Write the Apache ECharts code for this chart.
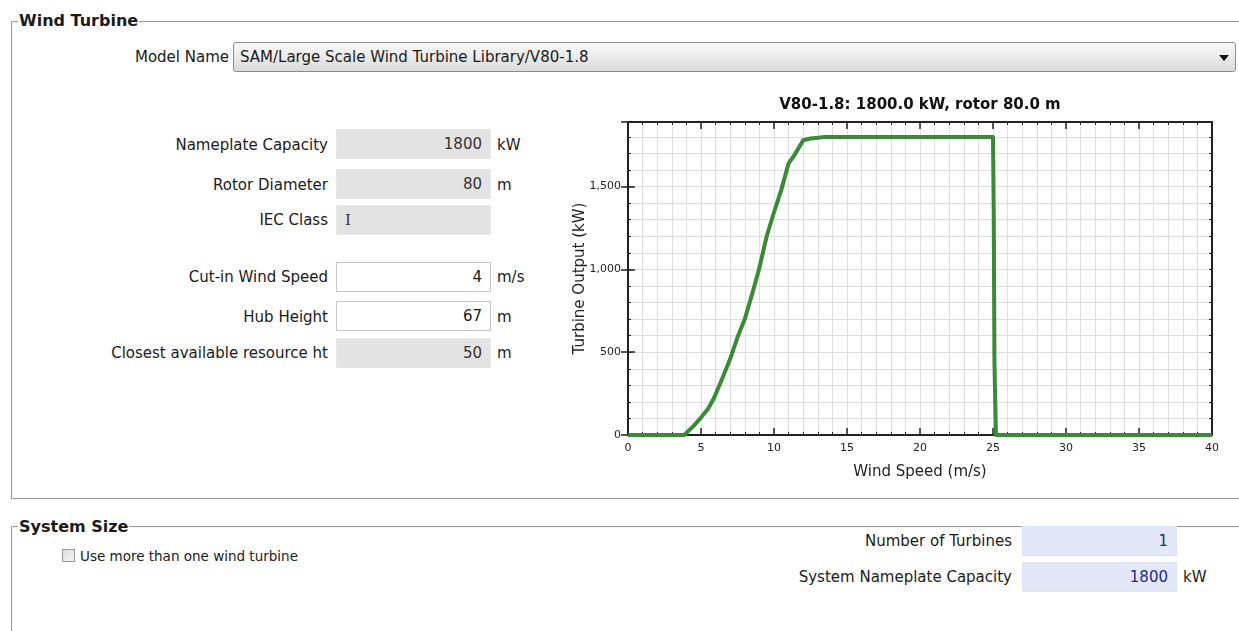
<!DOCTYPE html>
<html>
<head>
<meta charset="utf-8">
<script src="https://cdn.jsdelivr.net/npm/echarts@6/dist/echarts.min.js"></script>
<style>
  html, body { margin: 0; padding: 0; background: #ffffff; }
  body { width: 1239px; height: 631px; position: relative; overflow: hidden;
         font-family: "DejaVu Sans", sans-serif; font-size: 15px; color: #1a1a1a; }
  .abs { position: absolute; }
  .hline { position: absolute; height: 0; border-top: 1px solid #9a9a9a; border-bottom: 1px solid #f4f4f4; }
  .vline { position: absolute; width: 0; border-left: 1px solid #9a9a9a; border-right: 1px solid #f4f4f4; }
  .grp { position: absolute; font-weight: bold; font-size: 16px; background: #fff; padding: 0 1px; line-height: 18px; }
  .lbl { position: absolute; text-align: right; white-space: nowrap; line-height: 16px; }
  .box { position: absolute; box-sizing: border-box; height: 30px; border: 1px solid #d2d2d2;
         text-align: right; padding-right: 8px; line-height: 28px; white-space: nowrap; }
  .gray { background: #e3e3e3; border-color: #e8e8e8; color: #333; }
  .white { background: #ffffff; border-color: #c6c6c6; }
  .blue { background: #e2e8f8; border-color: #dde3f2; color: #1f2a8a; }
  .unit { position: absolute; line-height: 16px; white-space: nowrap; }
  #chart { position: absolute; left: 560px; top: 85px; width: 679px; height: 410px; }
</style>
</head>
<body>
<!-- Wind Turbine group -->
<div class="hline" style="left:11px; top:21px; width:1228px;"></div>
<div class="vline" style="left:11px; top:21px; height:478px;"></div>
<div class="hline" style="left:11px; top:498px; width:1228px;"></div>
<div class="grp" style="left:18px; top:12px;">Wind Turbine</div>

<div class="lbl" style="right:1010px; top:49px;">Model Name</div>
<div class="abs" style="left:233px; top:42px; width:1003px; height:30px; box-sizing:border-box; border:1px solid #8c8c8c; border-radius:3px;
     background:linear-gradient(#f8f8f8, #ececec 45%, #dadada); line-height:28px; padding-left:6px; white-space:nowrap;">SAM/Large Scale Wind Turbine Library/V80-1.8</div>
<div class="abs" style="left:1219px; top:55px; width:0; height:0; border-left:5px solid transparent; border-right:5px solid transparent; border-top:6px solid #111;"></div>

<div class="lbl" style="right:911px; top:137px;">Nameplate Capacity</div>
<div class="box gray" style="left:336px; top:129px; width:155px;">1800</div>
<div class="unit" style="left:497px; top:137px;">kW</div>

<div class="lbl" style="right:911px; top:177px;">Rotor Diameter</div>
<div class="box gray" style="left:336px; top:169px; width:155px;">80</div>
<div class="unit" style="left:497px; top:177px;">m</div>

<div class="lbl" style="right:911px; top:212px;">IEC Class</div>
<div class="box gray" style="left:336px; top:205px; width:155px; text-align:left; padding-left:8px; font-family:'DejaVu Serif', serif;">I</div>

<div class="lbl" style="right:911px; top:269px;">Cut-in Wind Speed</div>
<div class="box white" style="left:336px; top:262px; width:155px;">4</div>
<div class="unit" style="left:497px; top:269px;">m/s</div>

<div class="lbl" style="right:911px; top:309px;">Hub Height</div>
<div class="box white" style="left:336px; top:301px; width:155px;">67</div>
<div class="unit" style="left:497px; top:309px;">m</div>

<div class="lbl" style="right:911px; top:345px;">Closest available resource ht</div>
<div class="box gray" style="left:336px; top:338px; width:155px;">50</div>
<div class="unit" style="left:497px; top:345px;">m</div>

<!-- System Size group -->
<div class="hline" style="left:11px; top:526px; width:1228px;"></div>
<div class="vline" style="left:11px; top:526px; height:110px;"></div>
<div class="grp" style="left:18px; top:518px;">System Size</div>

<div class="abs" style="left:62px; top:549px; width:13px; height:13px; box-sizing:border-box; border:1px solid #9a9a9a; background:linear-gradient(135deg,#dcdcdc,#f4f4f4);"></div>
<div class="unit" style="left:80px; top:548px; font-size:13.5px;">Use more than one wind turbine</div>

<div class="lbl" style="right:227px; top:533px;">Number of Turbines</div>
<div class="box blue" style="left:1022px; top:526px; width:155px;">1</div>

<div class="lbl" style="right:227px; top:569px;">System Nameplate Capacity</div>
<div class="box blue" style="left:1022px; top:562px; width:155px;">1800</div>
<div class="unit" style="left:1183px; top:569px;">kW</div>

<div id="chart"></div>

<script>
// ---- data ----
const chartTitle = 'V80-1.8: 1800.0 kW, rotor 80.0 m';
const xAxisName = 'Wind Speed (m/s)';
const yAxisName = 'Turbine Output (kW)';
const windSpeed = [0, 1, 2, 3, 3.5, 3.85, 4.5, 5, 5.5, 5.9, 6.5, 7, 7.5, 8, 8.5, 9, 9.5, 10, 10.5, 11, 11.4, 12, 12.5, 13, 13.5, 15, 20, 25, 25.05, 25.1, 25.2, 30, 35, 40];
const turbineOutput = [0, 0, 0, 0, 0, 0, 55, 105, 160, 225, 350, 460, 590, 700, 850, 1010, 1200, 1345, 1480, 1640, 1690, 1780, 1790, 1795, 1800, 1800, 1800, 1800, 1350, 440, 0, 0, 0, 0];
const xTicks = [0, 5, 10, 15, 20, 25, 30, 35, 40];
const yTicks = [0, 500, 1000, 1500];

const curve = windSpeed.map((w, i) => [w, turbineOutput[i]]);
const fontFam = '"DejaVu Sans", sans-serif';
const frame = '#222';
const gridCol = '#dedede';

const chart = echarts.init(document.getElementById('chart'), null, { renderer: 'canvas' });
const baseX = {
  type: 'value', min: xTicks[0], max: xTicks[xTicks.length - 1], interval: xTicks[1] - xTicks[0],
  axisLine: { show: true, onZero: false, lineStyle: { color: frame, width: 2 } },
  axisTick: { show: true, inside: true, length: 7, lineStyle: { color: frame, width: 1.5 } },
  minorTick: { show: true, splitNumber: 5, length: 3, lineStyle: { color: frame } }
};
chart.setOption({
  animation: false,
  title: { text: chartTitle, left: 355, textAlign: 'center', top: 8,
           textStyle: { fontFamily: fontFam, fontSize: 15, fontWeight: 'bold', color: '#111' } },
  grid: { left: 68, top: 37, right: 27, bottom: 60, show: true, borderColor: frame, borderWidth: 2,
          backgroundColor: '#fff', containLabel: false, outerBoundsMode: 'none' },
  xAxis: [
    Object.assign({}, baseX, {
      position: 'bottom',
      name: xAxisName, nameLocation: 'middle', nameGap: 30, nameMoveOverlap: false,
      nameTextStyle: { fontFamily: fontFam, fontSize: 15, color: '#222' },
      axisLabel: { show: true, margin: 8, fontFamily: fontFam, fontSize: 11, color: '#222' },
      splitLine: { show: true, lineStyle: { color: gridCol, width: 1 } },
      minorSplitLine: { show: true, lineStyle: { color: gridCol, width: 1 } }
    }),
    Object.assign({}, baseX, {
      position: 'top', axisLabel: { show: false }, splitLine: { show: false }, minorSplitLine: { show: false }
    })
  ],
  yAxis: [
    { type: 'value', min: 0, max: 1890, interval: 100, position: 'left',
      name: yAxisName, nameLocation: 'middle', nameGap: 40, nameRotate: 90, nameMoveOverlap: false,
      nameTextStyle: { fontFamily: fontFam, fontSize: 15, color: '#222' },
      axisLine: { show: true, onZero: false, lineStyle: { color: frame, width: 2 } },
      axisTick: { show: true, inside: true, length: 3, lineStyle: { color: frame } },
      axisLabel: { show: true, margin: 7, fontFamily: fontFam, fontSize: 11, color: '#222', showMaxLabel: false,
        formatter: v => (yTicks.indexOf(v) >= 0 ? v.toLocaleString('en-US') : '') },
      splitLine: { show: true, lineStyle: { color: gridCol, width: 1 } } },
    { type: 'value', min: 0, max: 1890, interval: 500, position: 'left',
      axisLine: { show: false }, axisLabel: { show: false }, splitLine: { show: false },
      axisTick: { show: true, inside: true, length: 7, lineStyle: { color: frame, width: 1.5 } } },
    { type: 'value', min: 0, max: 1890, interval: 100, position: 'right',
      axisLine: { show: true, onZero: false, lineStyle: { color: frame, width: 2 } }, axisLabel: { show: false }, splitLine: { show: false },
      axisTick: { show: true, inside: true, length: 3, lineStyle: { color: frame } } },
    { type: 'value', min: 0, max: 1890, interval: 500, position: 'right',
      axisLine: { show: false }, axisLabel: { show: false }, splitLine: { show: false },
      axisTick: { show: true, inside: true, length: 7, lineStyle: { color: frame, width: 1.5 } } }
  ],
  series: [{
    type: 'line', xAxisIndex: 0, yAxisIndex: 0, data: curve,
    showSymbol: false, symbol: 'none', silent: true,
    lineStyle: { color: '#3a8a36', width: 4, join: 'round' }
  }]
});
</script>
</body>
</html>
